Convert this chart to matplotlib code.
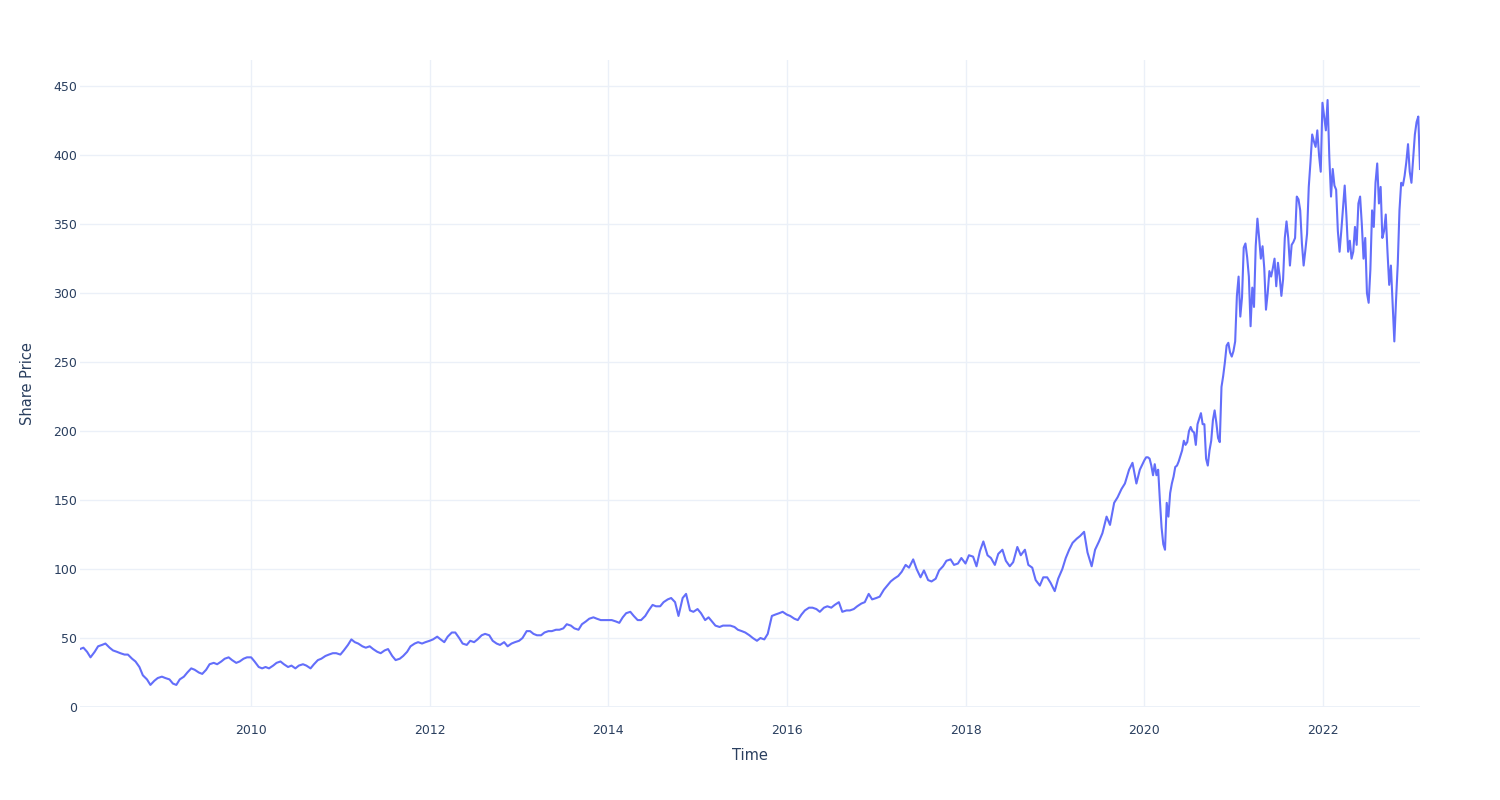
import pandas as pd
import matplotlib
matplotlib.use("Agg")
import matplotlib.pyplot as plt
import matplotlib.dates as mdates

# share price, 1st and 15th of each month (Feb 2008 - Dec 2019)
price_2008 = [42, 43, 40, 36, 40, 44, 45, 46, 43, 41, 40, 39, 38, 38, 35, 33, 29, 23, 20, 16, 19, 21]
price_2009 = [22, 21, 20, 17, 16, 20, 22, 25, 28, 27, 25, 24, 27, 31, 32, 31, 33, 35, 36, 34, 32, 33, 35, 36]
price_2010 = [36, 33, 29, 28, 29, 28, 30, 32, 33, 31, 29, 30, 28, 30, 31, 30, 28, 31, 34, 35, 37, 38, 39, 39]
price_2011 = [38, 41, 45, 49, 47, 46, 44, 43, 44, 42, 40, 39, 41, 42, 37, 34, 35, 37, 40, 44, 46, 47, 46, 47]
price_2012 = [48, 49, 51, 49, 47, 51, 54, 54, 50, 46, 45, 48, 47, 49, 52, 53, 52, 48, 46, 45, 47, 44, 46, 47]
price_2013 = [48, 50, 55, 55, 53, 52, 52, 54, 55, 55, 56, 56, 57, 60, 59, 57, 56, 60, 62, 64, 65, 64, 63, 63]
price_2014 = [63, 63, 62, 61, 65, 68, 69, 66, 63, 63, 66, 70, 74, 73, 73, 76, 78, 79, 76, 66, 79, 82, 70, 69]
price_2015 = [71, 68, 63, 65, 62, 59, 58, 59, 59, 59, 58, 56, 55, 54, 52, 50, 48, 50, 49, 53, 66, 67, 68, 69]
price_2016 = [67, 66, 64, 63, 67, 70, 72, 72, 71, 69, 72, 73, 72, 74, 76, 69, 70, 70, 71, 73, 75, 76, 82, 78]
price_2017 = [79, 80, 85, 88, 91, 93, 95, 98, 103, 101, 107, 100, 94, 99, 92, 91, 93, 99, 102, 106, 107, 103, 104, 108]
price_2018 = [104, 110, 109, 102, 113, 120, 110, 108, 103, 111, 114, 106, 102, 105, 116, 110, 114, 103, 101, 92, 88, 94, 94, 90]
price_2019 = [84, 93, 100, 108, 114, 119, 122, 124, 127, 112, 102, 114, 120, 126, 138, 132, 148, 152, 158, 162, 172, 177, 162, 172]

# weekly from Jan 2020 on, the line gets much choppier there
price_weekly = [
    179, 181, 181, 180, 175, 168, 176, 168, 172, 150,
    130, 118, 114, 148, 138, 155, 162, 167, 174, 175,
    178, 182, 186, 193, 190, 192, 200, 203, 200, 199,
    190, 205, 209, 213, 205, 205, 180, 175, 186, 193,
    208, 215, 206, 195, 192, 232, 240, 250, 262, 264,
    257, 254, 258, 265, 298, 312, 283, 297, 333, 336,
    326, 312, 276, 304, 290, 334, 354, 340, 325, 334,
    318, 288, 300, 316, 312, 318, 325, 305, 322, 312,
    298, 310, 340, 352, 340, 320, 335, 337, 340, 370,
    368, 360, 336, 320, 331, 343, 377, 395, 415, 410,
    406, 418, 400, 388, 438, 428, 418, 440, 399, 370,
    390, 378, 375, 345, 330, 345, 362, 378, 356, 330,
    338, 325, 330, 348, 335, 365, 370, 350, 325, 340,
    300, 293, 317, 360, 348, 380, 394, 365, 377, 340,
    345, 357, 330, 306, 320, 292, 265, 295, 321, 360,
    380, 378, 385, 395, 408, 388, 380, 398, 415, 424,
    428, 390,
]

semi = (price_2008 + price_2009 + price_2010 + price_2011 + price_2012 + price_2013
        + price_2014 + price_2015 + price_2016 + price_2017 + price_2018 + price_2019)
semi_dates = pd.date_range("2008-02-01", periods=len(semi), freq="SMS")
week_dates = pd.date_range("2020-01-03", periods=len(price_weekly), freq="7D")

df = pd.concat([
    pd.Series(semi, index=semi_dates),
    pd.Series(price_weekly, index=week_dates),
])

grid_col = "#EBF0F8"
text_col = "#2a3f5f"

fig = plt.figure(figsize=(15, 8), dpi=100)
ax = fig.add_axes([80 / 1500, 93 / 800, 1340 / 1500, 647 / 800])

ax.plot(df.index, df.values, color="#636EFA", lw=1.5, zorder=3)

ax.set_xlim(df.index[0], df.index[-1])
ax.set_ylim(0, 469)
ax.set_yticks(range(0, 451, 50))
ax.xaxis.set_major_locator(mdates.YearLocator(2))
ax.xaxis.set_major_formatter(mdates.DateFormatter("%Y"))

ax.grid(True, color=grid_col, lw=1)
ax.axhline(0, color=grid_col, lw=2, zorder=2)
ax.set_axisbelow(True)
for s in ax.spines.values():
    s.set_visible(False)
ax.tick_params(length=0, labelsize=9, labelcolor=text_col)
ax.tick_params(axis="x", pad=12)
ax.tick_params(axis="y", pad=2)

ax.set_xlabel("Time", fontsize=10.5, color=text_col, labelpad=8)
ax.set_ylabel("Share Price", fontsize=10.5, color=text_col, labelpad=13)

fig.savefig("out.png", dpi=100)
